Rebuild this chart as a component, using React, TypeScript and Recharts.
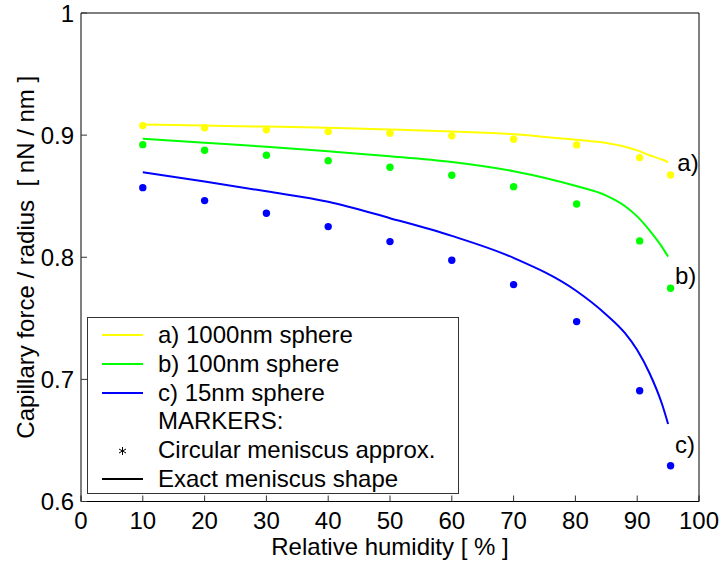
import React from 'react';
import { ComposedChart, Line, Scatter, XAxis, YAxis, Legend } from 'recharts';

// humidity [%] where the exact-meniscus curves were read
const lineHumidity = [10, 20, 30, 40, 50, 60, 70, 80, 85, 88, 90, 92, 94, 95];
const yellowLine = [0.9086, 0.9078, 0.907, 0.906, 0.9046, 0.903, 0.9008, 0.8962, 0.8935, 0.8905, 0.8875, 0.8835, 0.88, 0.8778];
const greenLine = [0.8971, 0.8938, 0.8905, 0.8868, 0.8828, 0.878, 0.8705, 0.8585, 0.8505, 0.842, 0.8335, 0.822, 0.8085, 0.8005];
const blueLine = [0.8696, 0.862, 0.854, 0.8455, 0.832, 0.8175, 0.7995, 0.773, 0.753, 0.738, 0.724, 0.705, 0.68, 0.6635];

// circular meniscus approximation (markers)
const markerHumidity = [10, 20, 30, 40, 50, 60, 70, 80.2, 90.4, 95.4];
const yellowMarkers = [0.9078, 0.9061, 0.9043, 0.9029, 0.9016, 0.8994, 0.8966, 0.892, 0.8816, 0.8674];
const greenMarkers = [0.8922, 0.8876, 0.8835, 0.8791, 0.8737, 0.8672, 0.8578, 0.8436, 0.8134, 0.7746];
const blueMarkers = [0.857, 0.8464, 0.836, 0.8251, 0.8128, 0.7975, 0.7776, 0.7473, 0.6907, 0.6293];

// curve tags at the right end
const tagText = ['a)', 'b)', 'c)'];
const tagHumidity = [96.5, 96.1, 96.1];
const tagValue = [0.8775, 0.7855, 0.647];

const xTicks = [0, 10, 20, 30, 40, 50, 60, 70, 80, 90, 100];
const yTicks = [0.6, 0.7, 0.8, 0.9, 1];

const FONT = '"Liberation Sans", Arial, Helvetica, sans-serif';

const toPoints = (xs: number[], ys: number[]) => xs.map((x, i) => ({ x, y: ys[i] }));

const series = [
  { name: 'a) 1000nm sphere', color: '#ffff00', line: yellowLine, markers: yellowMarkers },
  { name: 'b) 100nm sphere', color: '#00ff00', line: greenLine, markers: greenMarkers },
  { name: 'c) 15nm sphere', color: '#0000ff', line: blueLine, markers: blueMarkers },
];

const tags = tagText.map((t, i) => ({ x: tagHumidity[i], y: tagValue[i], t }));

const XTick = (p: any) => (
  <text x={p.x} y={p.y} textAnchor="middle" fontFamily={FONT} fontSize={24} fill="#000">
    {p.payload.value}
  </text>
);

const YTick = (p: any) => (
  <text x={p.x} y={p.y} dy="0.36em" textAnchor="end" fontFamily={FONT} fontSize={24} fill="#000">
    {String(p.payload.value)}
  </text>
);

const YTitle = ({ viewBox }: any) => {
  const cx = viewBox.x - 46;
  const cy = viewBox.y + viewBox.height / 2;
  return (
    <text
      transform={`translate(${cx},${cy}) rotate(-90)`}
      textAnchor="middle"
      fontFamily={FONT}
      fontSize={24}
      fill="#000"
      style={{ whiteSpace: 'pre' }}
    >
      {'Capillary force / radius  [ nN / nm ]'}
    </text>
  );
};

const dot = (color: string) => (p: any) => <circle cx={p.cx} cy={p.cy} r={3.7} fill={color} />;

const tagShape = (p: any) => (
  <text x={p.cx} y={p.cy} dy="0.36em" fontFamily={FONT} fontSize={24} fill="#000">
    {p.payload.t}
  </text>
);

const Star = () => (
  <svg width={41} height={12}>
    <g stroke="#000" strokeWidth={1}>
      <line x1={20.5} y1={2} x2={20.5} y2={10} />
      <line x1={17} y1={4} x2={24} y2={8} />
      <line x1={17} y1={8} x2={24} y2={4} />
    </g>
  </svg>
);

const LegendBox = () => {
  const row = (sample: React.ReactNode, label: string) => (
    <div key={label} style={{ display: 'flex', alignItems: 'center', height: 28.8 }}>
      <div style={{ width: 41, display: 'flex', alignItems: 'center', justifyContent: 'center' }}>{sample}</div>
      <span style={{ marginLeft: 15, whiteSpace: 'pre' }}>{label}</span>
    </div>
  );
  const bar = (c: string) => <div style={{ width: 41, height: 2, background: c }} />;
  return (
    <div
      style={{
        width: 372,
        height: 177,
        boxSizing: 'border-box',
        border: '1px solid #333',
        background: '#fff',
        paddingTop: 3,
        paddingLeft: 14,
        fontFamily: FONT,
        fontSize: 24,
        color: '#000',
        lineHeight: '28.8px',
      }}
    >
      {series.map((s) => row(bar(s.color), s.name))}
      {row(null, 'MARKERS:')}
      {row(<Star />, 'Circular meniscus approx.')}
      {row(bar('#000'), 'Exact meniscus shape')}
    </div>
  );
};

export default function App() {
  return (
    <div style={{ position: 'absolute', left: 0, top: 0, width: 723, height: 565, background: '#fff' }}>
      <ComposedChart width={723} height={565} margin={{ top: 12, right: 23, bottom: 62.5, left: 80 }}>
        <XAxis
          dataKey="x"
          type="number"
          domain={[0, 100]}
          ticks={xTicks}
          height={1}
          tickSize={-6}
          tickMargin={33.5}
          tick={XTick}
          axisLine={{ stroke: '#000', strokeWidth: 1 }}
          tickLine={{ stroke: '#333' }}
          label={{ value: 'Relative humidity [ % ]', position: 'bottom', offset: 35, fontSize: 24, fill: '#000', fontFamily: FONT }}
        />
        <XAxis
          xAxisId="top"
          orientation="top"
          dataKey="x"
          type="number"
          domain={[0, 100]}
          ticks={xTicks}
          height={1}
          tickSize={-6}
          tick={false}
          axisLine={{ stroke: '#000', strokeWidth: 1 }}
          tickLine={{ stroke: '#333' }}
        />
        <YAxis
          type="number"
          domain={[0.6, 1]}
          ticks={yTicks}
          width={1}
          tickSize={-6}
          tickMargin={13}
          tick={YTick}
          axisLine={{ stroke: '#000', strokeWidth: 1 }}
          tickLine={{ stroke: '#333' }}
          label={{ content: YTitle }}
        />
        <YAxis
          yAxisId="right"
          orientation="right"
          type="number"
          domain={[0.6, 1]}
          ticks={yTicks}
          width={1}
          tickSize={-6}
          tick={false}
          axisLine={{ stroke: '#000', strokeWidth: 1 }}
          tickLine={{ stroke: '#333' }}
        />
        <Legend
          layout="vertical"
          align="center"
          verticalAlign="middle"
          content={LegendBox}
          wrapperStyle={{ left: 87, top: 317, width: 372, height: 177 }}
        />
        {series.map((s) => (
          <Line
            key={s.name + '-line'}
            data={toPoints(lineHumidity, s.line)}
            dataKey="y"
            type="monotone"
            stroke={s.color}
            strokeWidth={2}
            dot={false}
            activeDot={false}
            isAnimationActive={false}
          />
        ))}
        {series.map((s) => (
          <Scatter
            key={s.name + '-markers'}
            data={toPoints(markerHumidity, s.markers)}
            dataKey="y"
            fill={s.color}
            shape={dot(s.color)}
            isAnimationActive={false}
          />
        ))}
        <Scatter data={tags} dataKey="y" shape={tagShape} isAnimationActive={false} />
      </ComposedChart>
    </div>
  );
}
